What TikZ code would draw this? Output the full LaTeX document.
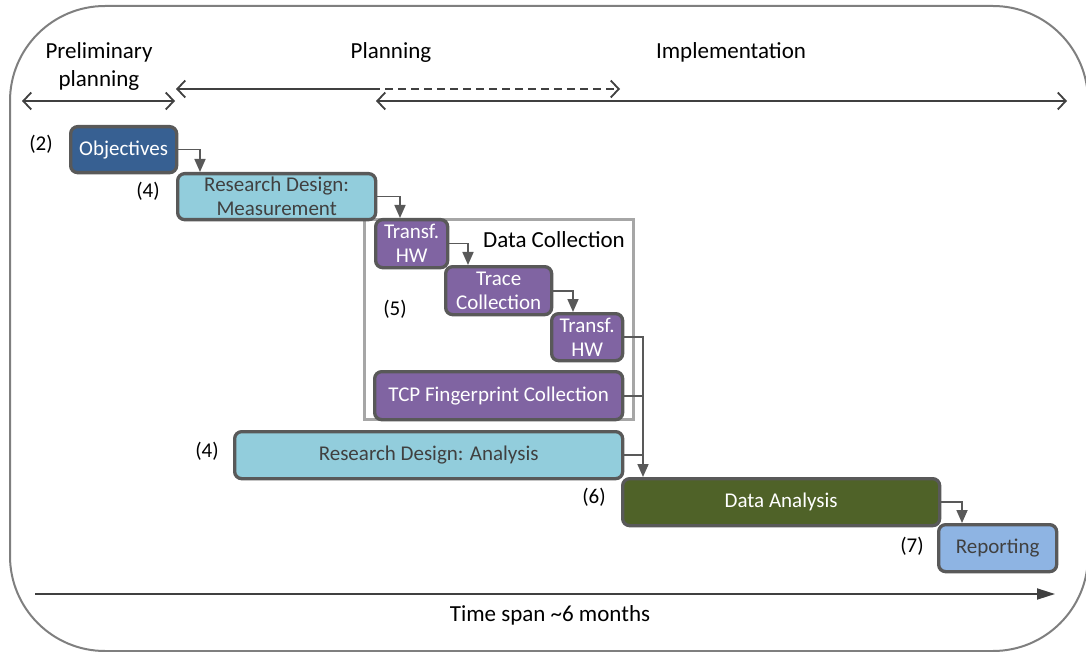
\documentclass[tikz,border=0pt]{standalone}
\usepackage{fontspec}
\setmainfont{Carlito}
\usetikzlibrary{arrows.meta,calc}

\definecolor{framegray}{HTML}{7F7F7F}
\definecolor{boxline}{HTML}{595959}
\definecolor{darktext}{HTML}{404040}
\definecolor{objblue}{HTML}{376092}
\definecolor{lightblue}{HTML}{92CDDC}
\definecolor{purple}{HTML}{8064A2}
\definecolor{olive}{HTML}{4F6228}
\definecolor{repblue}{HTML}{8EB4E3}
\definecolor{dcgray}{HTML}{A6A6A6}

\begin{document}
\begin{tikzpicture}[x=1pt,y=-1pt,
  task/.style={draw=boxline, line width=3.3pt, rounded corners=7pt,
    inner sep=0pt, align=center, anchor=north west,
    font=\fontsize{21}{24}\selectfont},
  darkbox/.style={task, text=white},
  lightbox/.style={task, text=darktext},
  conn/.style={draw=boxline, line width=1.7pt, -{Triangle[length=13pt,width=11pt]}},
  joinline/.style={draw=boxline, line width=1.7pt},
  span/.style={draw=darktext, line width=1.8pt},
  barb/.tip={Straight Barb[length=8pt,width=17pt]},
  label/.style={font=\fontsize{21}{24}\selectfont, text=black},
  header/.style={font=\fontsize{23}{28}\selectfont, text=black, align=center}
]
\useasboundingbox (0,0) rectangle (1086,652);

% outer frame
\draw[framegray, line width=2pt, rounded corners=95pt] (10,6) rectangle (1088,651);

% phase headers
\node[header] (hprelim) at (99,66) {Preliminary\\planning};
\node[header] (hplan) at (391,52) {Planning};
\node[header] (himpl) at (731,52) {Implementation};

% phase spans
\coordinate (pp-l) at (22,101);
\coordinate (pp-r) at (175,101);
\coordinate (pl-l) at (176,89);
\coordinate (pl-m) at (372,89);
\coordinate (pl-r) at (620,89);
\coordinate (im-l) at (376,101);
\coordinate (im-r) at (1067,101);
\draw[span, barb-barb] (pp-l) -- (pp-r);
\draw[span, barb-] (pl-l) -- (pl-m);
\draw[span, dash pattern=on 8pt off 5pt, -barb] (pl-m) -- (pl-r);
\draw[span, barb-barb] (im-l) -- (im-r);

% data collection group
\node[draw=dcgray, line width=3pt, minimum width=269pt, minimum height=200pt,
  inner sep=0pt, anchor=north west] (dcbox) at (363,218) {};
\node[header] (dctitle) at (554,240) {Data Collection};

% tasks
\node[darkbox, fill=objblue, minimum width=106pt, minimum height=46pt] (obj) at (69,125) {Objectives};
\node[lightbox, fill=lightblue, minimum width=198pt, minimum height=46pt] (rdm) at (176,172) {Research Design:\\Measurement};
\node[darkbox, fill=purple, minimum width=72pt, minimum height=48pt] (hw1) at (374,218) {Transf.\\HW};
\node[darkbox, fill=purple, minimum width=106pt, minimum height=48pt] (trace) at (444,265) {Trace\\Collection};
\node[darkbox, fill=purple, minimum width=71pt, minimum height=47pt] (hw2) at (550,312) {Transf.\\HW};
\node[darkbox, fill=purple, minimum width=248pt, minimum height=48pt] (tcp) at (373,370) {TCP Fingerprint Collection};
\node[lightbox, fill=lightblue, minimum width=388pt, minimum height=47pt] (rda) at (233,430) {Research Design: Analysis};
\node[darkbox, fill=olive, minimum width=317pt, minimum height=47pt] (da) at (621,477) {Data Analysis};
\node[lightbox, fill=repblue, minimum width=118pt, minimum height=47pt] (rep) at (937,523) {Reporting};

% step numbers
\node[label] (n2) at (41,144) {(2)};
\node[label] (n4a) at (148,191) {(4)};
\node[label] (n5) at (395,309) {(5)};
\node[label] (n4b) at (207,451) {(4)};
\node[label] (n6) at (594,497) {(6)};
\node[label] (n7) at (912,546) {(7)};

% connectors
\draw[conn] (obj.east) -| ($(rdm.north west)+(24,0)$);
\draw[conn] (rdm.east) -| ($(hw1.north west)+(26,0)$);
\draw[conn] (hw1.east) -| ($(trace.north west)+(24,0)$);
\draw[conn] (trace.east) -| ($(hw2.north west)+(23,0)$);
\coordinate (merge) at ($(da.north west)+(22,0)$);
\draw[conn] (hw2.east) -| (merge);
\draw[joinline] (tcp.east) -- (tcp.east -| merge);
\draw[joinline] (rda.east) -- (rda.east -| merge);
\draw[conn] (da.east) -| ($(rep.north west)+(25,0)$);

% time axis
\coordinate (ta-l) at (35,594);
\coordinate (ta-r) at (1055,594);
\draw[span, -{Triangle[length=18pt,width=11pt]}] (ta-l) -- (ta-r);
\node[header] (tspan) at (550,615) {Time span \textasciitilde 6 months};
\end{tikzpicture}
\end{document}
